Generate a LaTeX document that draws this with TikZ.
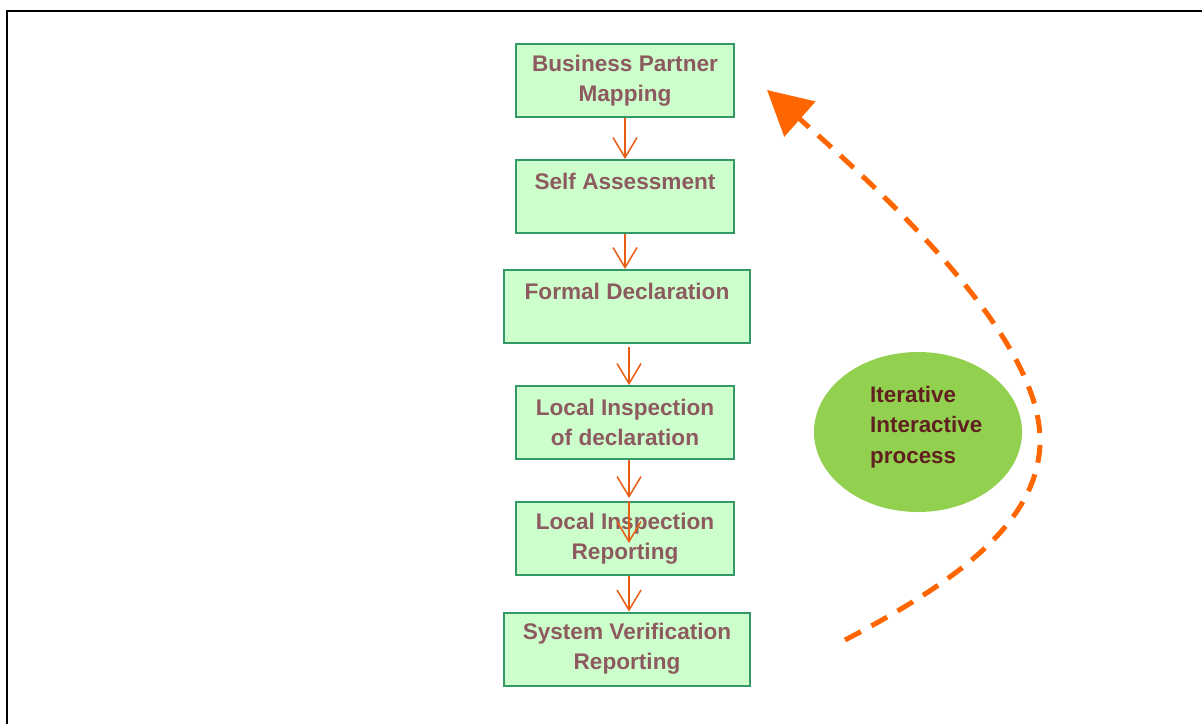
\documentclass[tikz,border=0pt]{standalone}
\usepackage{fontspec}
\setmainfont{Liberation Sans}
\usetikzlibrary{arrows.meta,shapes.geometric}
\definecolor{boxfill}{RGB}{204,255,204}
\definecolor{boxline}{RGB}{51,153,102}
\definecolor{boxtext}{RGB}{140,90,95}
\definecolor{flowarrow}{RGB}{232,92,20}
\definecolor{loopcol}{RGB}{255,102,0}
\definecolor{ellfill}{RGB}{146,208,80}
\definecolor{elltext}{RGB}{96,32,32}
\tikzset{
  stepbox/.style={draw=boxline, line width=2pt, fill=boxfill, text=boxtext,
    font=\fontsize{22.6}{30}\selectfont\bfseries, align=center,
    minimum height=73pt, inner sep=0pt},
  narrowbox/.style={stepbox, minimum width=218pt},
  widebox/.style={stepbox, minimum width=246pt},
  flow/.style={draw=flowarrow, line width=1.5pt, -{Straight Barb[length=20pt,width=24pt]}},
  loop/.style={draw=loopcol, line width=5pt, dash pattern=on 18pt off 12pt,
    -{Triangle[length=44pt,width=46pt]}},
}
\begin{document}
\begin{tikzpicture}[x=1pt,y=-1pt]
\useasboundingbox (0,0) rectangle (1202,723);
\begin{scope}
\clip (0,0) rectangle (1202,723);
\draw[line width=2pt] (7,740) -- (7,11) -- (1220,11);
\end{scope}
\coordinate (xa) at (629,0);
\coordinate (xb) at (625,0);
\node[narrowbox] (b1) at (625,80.5) {Business Partner\\Mapping};
\node[narrowbox] (b2) at (625,196.5) {Self Assessment\\\mbox{}};
\node[widebox] (b3) at (627,306.5) {Formal Declaration\\\mbox{}};
\node[narrowbox] (b4) at (625,422.5) {Local Inspection\\of declaration};
\node[narrowbox] (b5) at (625,538.5) {Local Inspection\\Reporting};
\node[widebox] (b6) at (627,649) {System Verification\\Reporting};
\coordinate (c5) at (629,543);
\draw[flow] (b1.south) -- (b2.north);
\draw[flow] (b2.south) -- (b3.north -| xb);
\draw[flow, shorten <=3pt] (b3.south -| xa) -- (b4.north -| xa);
\draw[flow, shorten >=3pt] (b4.south -| xa) -- (b5.north -| xa);
\draw[flow] (b5.north -| xa) -- (c5);
\draw[flow] (b5.south -| xa) -- (b6.north -| xa);
\fill[ellfill] (918,432) ellipse [x radius=104, y radius=80];
\node[text=elltext, font=\fontsize{22.4}{30.5}\selectfont\bfseries, align=left, anchor=west, inner sep=0pt] (lbl) at (870,427) {Iterative\\Interactive\\process};
\coordinate (ls) at (845,640);
\coordinate (lm) at (1040,440);
\coordinate (le) at (767,90);
\draw[loop] (ls) .. controls (960,580) and (1040,520) .. (lm) .. controls (1040,335) and (880,190) .. (le);
\end{tikzpicture}
\end{document}
